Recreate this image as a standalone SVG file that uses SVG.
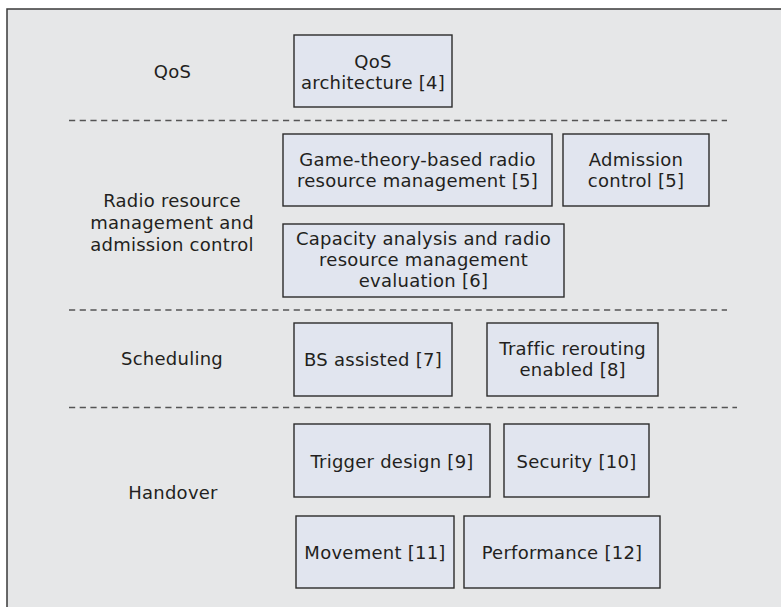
<svg xmlns="http://www.w3.org/2000/svg" width="781" height="607" viewBox="0 0 781 607">
<style>
.frame{fill:#e6e7e8;stroke:#3a3a3a;stroke-width:1.5}
.box{fill:#e1e5ef;stroke:#2b2b2b;stroke-width:1.4}
.t{font-family:"DejaVu Sans","Open Sans",sans-serif;font-size:18px;letter-spacing:0.25px;fill:#231f20;text-anchor:middle}
.sep{stroke:#555;stroke-width:1.3;stroke-dasharray:6.2 4.5;fill:none}
</style>
<rect class="frame" x="7" y="9" width="800" height="620"/>
<g id="separators">
<line class="sep" x1="69" y1="120.5" x2="727" y2="120.5"/>
<line class="sep" x1="69" y1="310" x2="727" y2="310"/>
<line class="sep" x1="69" y1="407.5" x2="737" y2="407.5"/>
</g>
<g id="label-qos"><text class="t" x="172.5" y="78">QoS</text></g>
<g id="label-rrm"><text class="t" x="172" y="207">Radio resource</text><text class="t" x="172" y="229">management and</text><text class="t" x="172" y="251">admission control</text></g>
<g id="label-scheduling"><text class="t" x="172" y="365">Scheduling</text></g>
<g id="label-handover"><text class="t" x="173" y="499">Handover</text></g>
<g id="node-qos-arch"><rect class="box" x="294" y="35" width="158" height="72"/><text class="t" x="373" y="67.5">QoS</text><text class="t" x="373" y="89">architecture [4]</text></g>
<g id="node-game"><rect class="box" x="283" y="134" width="269" height="72"/><text class="t" x="417.5" y="165.5">Game-theory-based radio</text><text class="t" x="417.5" y="187">resource management [5]</text></g>
<g id="node-admission"><rect class="box" x="563" y="134" width="146" height="72"/><text class="t" x="636" y="165.5">Admission</text><text class="t" x="636" y="187">control [5]</text></g>
<g id="node-capacity"><rect class="box" x="283" y="224" width="281" height="73"/><text class="t" x="423.5" y="245">Capacity analysis and radio</text><text class="t" x="423.5" y="266">resource management</text><text class="t" x="423.5" y="287">evaluation [6]</text></g>
<g id="node-bs"><rect class="box" x="294" y="323" width="158" height="73"/><text class="t" x="373" y="365.7">BS assisted [7]</text></g>
<g id="node-traffic"><rect class="box" x="487" y="323" width="171" height="73"/><text class="t" x="572.7" y="355">Traffic rerouting</text><text class="t" x="572.7" y="376">enabled [8]</text></g>
<g id="node-trigger"><rect class="box" x="294" y="424" width="196" height="73"/><text class="t" x="392" y="467.7">Trigger design [9]</text></g>
<g id="node-security"><rect class="box" x="504" y="424" width="145" height="73"/><text class="t" x="576.5" y="467.7">Security [10]</text></g>
<g id="node-movement"><rect class="box" x="296" y="516" width="158" height="72"/><text class="t" x="375" y="558.7">Movement [11]</text></g>
<g id="node-performance"><rect class="box" x="464" y="516" width="196" height="72"/><text class="t" x="562" y="558.7">Performance [12]</text></g>
<g id="connectors"/>
</svg>
